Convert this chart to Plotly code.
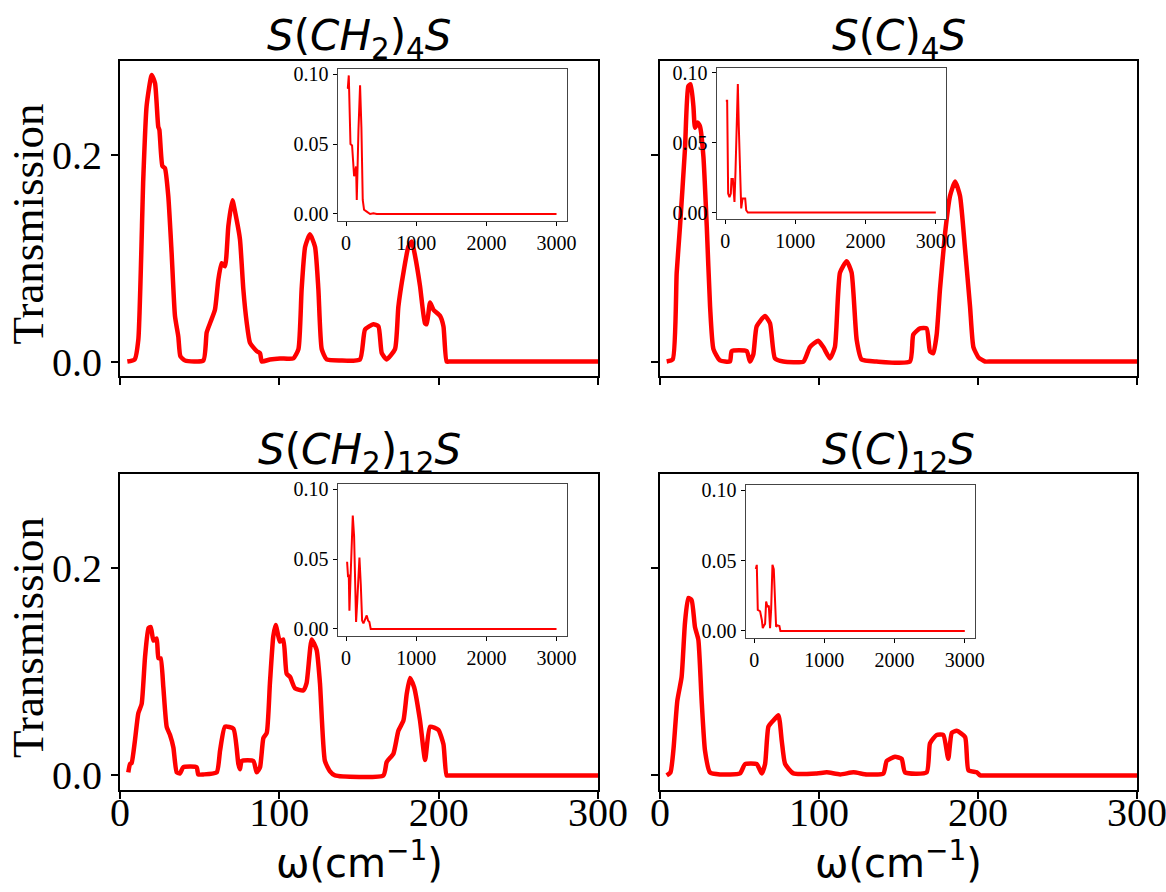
import plotly.graph_objects as go

W, H = 1166, 892

# ---------------- main panels data (omega in cm^-1, transmission) ----------------
tl_x = [4.6, 9.2, 11.5, 14.6, 16.7, 19.9, 22.0, 24.0, 24.7, 26.6, 28.2, 30.3, 32.4, 34.5, 36.6, 37.9, 40.8,
        52.3, 54.4, 56.5, 59.6, 61.7, 63.8, 65.9, 68.0, 70.5, 73.2, 75.3, 77.4, 79.5, 81.6, 85.8, 87.9, 89.0,
        94.1, 100.4, 108.8, 112.0, 114.0, 116.2, 119.2, 122.4, 124.5, 126.6, 129.7, 138.1, 150.6, 153.8,
        159.0, 162.2, 164.3, 167.4, 172.6, 174.7, 177.9, 181.0, 183.1, 185.2, 188.3, 191.4, 192.5, 194.6,
        196.7, 200.9, 203.0, 205.0, 207.0, 212.0, 250.0, 300.0]
tl_y = [0.000, 0.002, 0.021, 0.176, 0.247, 0.277, 0.269, 0.227, 0.224, 0.189, 0.187, 0.160, 0.105, 0.044,
        0.024, 0.005, 0.001, 0.001, 0.028, 0.037, 0.050, 0.079, 0.095, 0.092, 0.131, 0.156, 0.137, 0.118,
        0.070, 0.038, 0.018, 0.010, 0.008, 0.000, 0.002, 0.003, 0.003, 0.012, 0.070, 0.111, 0.123, 0.111,
        0.070, 0.012, 0.002, 0.001, 0.002, 0.031, 0.036, 0.034, 0.008, 0.002, 0.012, 0.053, 0.086, 0.111,
        0.116, 0.102, 0.073, 0.037, 0.036, 0.057, 0.050, 0.044, 0.034, 0.000, 0.000, 0.000, 0.000, 0.000]

tr_x = [4.2, 8.0, 10.5, 12.6, 15.7, 17.8, 19.3, 21.0, 22.0, 23.7, 25.2, 27.3, 29.4, 31.5, 33.6, 37.7, 44.0,
        45.1, 54.5, 56.6, 58.7, 60.8, 66.0, 69.2, 72.3, 77.6, 90.2, 94.3, 99.5, 102.7, 106.9, 110.0, 113.2,
        117.4, 120.5, 123.7, 126.8, 136.2, 157.2, 159.3, 163.5, 167.7, 169.8, 171.9, 174.0, 176.1, 179.3,
        182.4, 185.6, 188.7, 191.9, 195.0, 197.1, 200.3, 204.4, 208.0, 215.0, 250.0, 300.0]
tr_y = [0.000, 0.002, 0.086, 0.131, 0.205, 0.266, 0.268, 0.247, 0.226, 0.231, 0.227, 0.198, 0.131, 0.053,
        0.012, 0.001, 0.000, 0.010, 0.010, 0.000, 0.007, 0.034, 0.044, 0.037, 0.003, 0.000, 0.000, 0.014,
        0.020, 0.014, 0.003, 0.014, 0.086, 0.097, 0.086, 0.021, 0.002, 0.000, 0.000, 0.026, 0.032, 0.032,
        0.010, 0.008, 0.026, 0.070, 0.124, 0.160, 0.174, 0.160, 0.108, 0.053, 0.014, 0.004, 0.000, 0.000,
        0.000, 0.000, 0.000]

bl_x = [5.2, 6.3, 7.3, 9.4, 11.5, 13.6, 15.7, 17.9, 19.3, 21.0, 23.0, 24.1, 25.5, 27.2, 29.3, 31.4, 33.5,
        35.6, 37.7, 39.7, 48.1, 49.1, 52.3, 60.7, 62.8, 65.9, 71.2, 74.3, 75.3, 76.4, 83.7, 85.8, 87.9, 90.0,
        92.1, 94.1, 96.2, 97.7, 99.4, 100.4, 102.5, 104.6, 106.7, 109.8, 115.0, 117.1, 120.3, 123.4, 125.5,
        128.6, 131.8, 134.9, 165.3, 167.4, 171.6, 174.7, 177.9, 180.0, 182.0, 184.6, 188.3, 191.5, 194.6,
        199.8, 203.0, 205.0, 207.0, 212.0, 250.0, 300.0]
bl_y = [0.003, 0.011, 0.012, 0.034, 0.060, 0.069, 0.114, 0.142, 0.143, 0.130, 0.132, 0.113, 0.113, 0.085,
        0.047, 0.039, 0.027, 0.003, 0.002, 0.008, 0.008, 0.001, 0.001, 0.003, 0.024, 0.047, 0.045, 0.011,
        0.006, 0.014, 0.014, 0.003, 0.008, 0.036, 0.041, 0.089, 0.134, 0.145, 0.134, 0.129, 0.131, 0.098,
        0.095, 0.084, 0.082, 0.089, 0.131, 0.121, 0.089, 0.014, 0.004, 0.000, 0.000, 0.013, 0.021, 0.043,
        0.053, 0.079, 0.094, 0.085, 0.053, 0.015, 0.047, 0.044, 0.030, 0.000, 0.000, 0.000, 0.000, 0.000]

br_x = [4.2, 6.6, 8.4, 10.9, 13.6, 15.7, 17.8, 19.9, 22.0, 24.1, 26.2, 28.3, 31.4, 37.7, 50.3, 53.5, 60.8,
        64.0, 66.1, 68.2, 71.3, 74.5, 76.6, 78.7, 83.9, 98.6, 104.9, 113.3, 121.7, 130.1, 140.5, 142.6,
        147.8, 152.0, 154.1, 167.7, 169.8, 174.0, 178.2, 181.3, 183.5, 186.6, 191.9, 194.0, 199.2, 201.4,
        204.0, 210.0, 250.0, 300.0]
br_y = [0.000, 0.003, 0.024, 0.072, 0.095, 0.147, 0.171, 0.169, 0.143, 0.131, 0.072, 0.024, 0.003, 0.001,
        0.002, 0.011, 0.011, 0.002, 0.011, 0.047, 0.053, 0.058, 0.033, 0.011, 0.002, 0.002, 0.003, 0.001,
        0.003, 0.001, 0.002, 0.014, 0.018, 0.016, 0.003, 0.003, 0.031, 0.039, 0.039, 0.016, 0.041, 0.043,
        0.037, 0.005, 0.003, 0.000, 0.000, 0.000, 0.000, 0.000]

# ---------------- inset data (full range) ----------------
itl_x = [20, 24, 38, 47, 62, 85, 95, 114, 128, 142, 152, 161, 176, 199, 218, 237, 256, 294, 342, 389, 437, 3000]
itl_y = [0.090, 0.0898, 0.099, 0.074, 0.050, 0.049, 0.039, 0.027, 0.030, 0.034, 0.010, 0.031, 0.060, 0.092,
         0.062, 0.010, 0.003, 0.0017, 0.000, 0.0005, 0.000, 0.000]

itr_x = [10, 29, 43, 62, 81, 90, 110, 124, 133, 148, 162, 181, 195, 210, 229, 248, 286, 300, 324, 3000]
itr_y = [0.080, 0.080, 0.0136, 0.011, 0.0136, 0.024, 0.024, 0.017, 0.0076, 0.030, 0.054, 0.092, 0.061,
         0.030, 0.003, 0.010, 0.010, 0.0017, 0.000, 0.000]

ibl_x = [14, 28, 38, 47, 62, 76, 95, 114, 128, 142, 157, 176, 190, 209, 228, 247, 266, 294, 313, 332, 351, 3000]
ibl_y = [0.048, 0.037, 0.039, 0.013, 0.035, 0.058, 0.081, 0.066, 0.035, 0.005, 0.018, 0.044, 0.051, 0.032,
         0.006, 0.004, 0.007, 0.0097, 0.006, 0.005, 0.000, 0.000]

ibr_x = [24, 38, 52, 85, 109, 123, 142, 156, 171, 190, 209, 227, 242, 261, 280, 299, 313, 332, 360, 374, 3000]
ibr_y = [0.044, 0.047, 0.015, 0.014, 0.008, 0.002, 0.004, 0.005, 0.021, 0.017, 0.018, 0.002, 0.015, 0.047,
         0.044, 0.015, 0.003, 0.004, 0.0035, 0.000, 0.000]

titles = ["<i>S</i>(<i>CH</i><sub>2</sub>)<sub>4</sub><i>S</i>",
          "<i>S</i>(<i>C</i>)<sub>4</sub><i>S</i>",
          "<i>S</i>(<i>CH</i><sub>2</sub>)<sub>12</sub><i>S</i>",
          "<i>S</i>(<i>C</i>)<sub>12</sub><i>S</i>"]
x_ticks = [0, 100, 200, 300]
y_ticks = [0.0, 0.2]
inset_x_ticks = [0, 1000, 2000, 3000]
inset_y_ticks = [0.00, 0.05, 0.10]
ylabel = "Transmission"
xlabel = "ω(cm<sup>−1</sup>)"

# ---------------- layout geometry (pixels) ----------------
main_boxes = [(120, 598, 61, 376), (660, 1137, 61, 376), (120, 598, 474, 790), (660, 1137, 474, 790)]
inset_boxes = [(337.7, 566.7, 69, 220.7), (716.7, 946, 67.7, 219.3),
               (337.7, 566.7, 484, 635.7), (745.7, 975, 485.3, 637.7)]


def xd(a, b):
    return [a / W, b / W]


def yd(a, b):
    return [1 - b / H, 1 - a / H]


fig = go.Figure()
main_data = [(tl_x, tl_y), (tr_x, tr_y), (bl_x, bl_y), (br_x, br_y)]
inset_data = [(itl_x, itl_y), (itr_x, itr_y), (ibl_x, ibl_y), (ibr_x, ibr_y)]

serif = "Liberation Serif"
sans = "DejaVu Sans"

for i, (xs, ys) in enumerate(main_data):
    n = i + 1
    fig.add_trace(go.Scatter(x=xs, y=ys, mode="lines",
                             line=dict(color="#ff0000", width=4.5, shape="spline", smoothing=0.5),
                             xaxis=f"x{n}", yaxis=f"y{n}", showlegend=False, hoverinfo="skip"))
for i, (xs, ys) in enumerate(inset_data):
    n = i + 5
    fig.add_trace(go.Scatter(x=xs, y=ys, mode="lines",
                             line=dict(color="#ff0000", width=2),
                             xaxis=f"x{n}", yaxis=f"y{n}", showlegend=False, hoverinfo="skip"))

layout = dict(width=W, height=H, margin=dict(l=0, r=0, t=0, b=0, autoexpand=False),
              paper_bgcolor="white", plot_bgcolor="white", showlegend=False, template="none")

for i, (x0, x1, y0, y1) in enumerate(main_boxes):
    n = i + 1
    sfx = "" if n == 1 else str(n)
    bottom = i >= 2
    left = i % 2 == 0
    layout[f"xaxis{sfx}"] = dict(domain=xd(x0, x1), range=[0, 300], anchor=f"y{n}", automargin=False,
                                 tickvals=x_ticks, ticks="outside", ticklen=7, tickwidth=1.5,
                                 tickcolor="black", showticklabels=bottom, showgrid=False,
                                 zeroline=False, showline=True, linecolor="black", linewidth=2,
                                 mirror=True, ticklabelstandoff=-21, ticklabeloverflow="allow",
                                 tickfont=dict(family=serif, size=40, color="black"))
    layout[f"yaxis{sfx}"] = dict(domain=yd(y0, y1), range=[-0.014, 0.2905], anchor=f"x{n}",
                                 automargin=False, ticklabelstandoff=1,
                                 tickvals=y_ticks, tickformat=".1f", ticks="outside", ticklen=7,
                                 tickwidth=1.5, tickcolor="black", showticklabels=left,
                                 showgrid=False, zeroline=False, showline=True, linecolor="black",
                                 linewidth=2, mirror=True,
                                 tickfont=dict(family=serif, size=40, color="black"))

for i, (x0, x1, y0, y1) in enumerate(inset_boxes):
    n = i + 5
    layout[f"xaxis{n}"] = dict(domain=xd(x0, x1), range=[-120, 3145], anchor=f"y{n}", automargin=False,
                               tickvals=inset_x_ticks, ticks="outside", ticklen=4, tickwidth=1,
                               tickcolor="black", showgrid=False, zeroline=False, showline=True,
                               linecolor="#444444", linewidth=1.3, mirror=True,
                               tickfont=dict(family=serif, size=20, color="black"))
    layout[f"yaxis{n}"] = dict(domain=yd(y0, y1), range=[-0.0048, 0.1036], anchor=f"x{n}",
                               automargin=False,
                               tickvals=inset_y_ticks, tickformat=".2f", ticks="outside", ticklen=4,
                               tickwidth=1, tickcolor="black", showgrid=False, zeroline=False,
                               showline=True, linecolor="#444444", linewidth=1.3, mirror=True,
                               tickfont=dict(family=serif, size=20, color="black"))

annotations = []
for i, (x0, x1, y0, y1) in enumerate(main_boxes):
    annotations.append(dict(text=titles[i], x=(x0 + x1) / 2 / W, y=1 - (y0 - 22) / H,
                            xref="paper", yref="paper", xanchor="center", yanchor="middle",
                            showarrow=False, font=dict(family=sans, size=42, color="black")))
for i in (0, 2):
    x0, x1, y0, y1 = main_boxes[i]
    annotations.append(dict(text=ylabel, x=28 / W, y=1 - ((y0 + y1) / 2 + 6) / H,
                            xref="paper", yref="paper", xanchor="center", yanchor="middle",
                            textangle=-90, showarrow=False,
                            font=dict(family=serif, size=45, color="black")))
for i in (2, 3):
    x0, x1, y0, y1 = main_boxes[i]
    annotations.append(dict(text=xlabel, x=(x0 + x1) / 2 / W, y=1 - 860 / H,
                            xref="paper", yref="paper", xanchor="center", yanchor="middle",
                            showarrow=False, font=dict(family=sans, size=40, color="black")))
layout["annotations"] = annotations

fig.update_layout(**layout)
fig.write_html("out.html", config={"displayModeBar": False},
               post_script="document.body.style.margin='0px';document.body.style.overflow='hidden';")
